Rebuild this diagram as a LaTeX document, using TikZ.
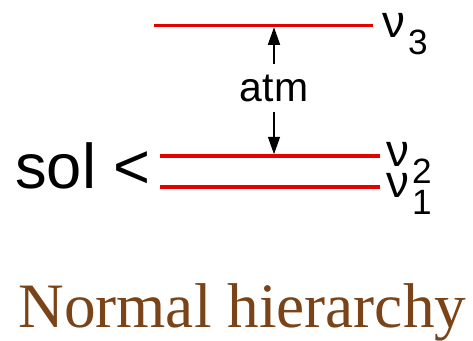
\documentclass[tikz,border=0pt]{standalone}
\usepackage{fontspec}
\setmainfont{Liberation Serif}
\setsansfont{Liberation Sans}
\usepackage{tikz}
\usetikzlibrary{arrows.meta}
\definecolor{levelred}{RGB}{228,0,0}
\definecolor{hierbrown}{RGB}{122,68,24}
\newcommand{\nuidx}[1]{ν\hspace{0.06cm}\raisebox{-0.34cm}{\fontsize{20}{24}\selectfont #1}}
\tikzset{
  level/.style={line width=0.07cm, draw=levelred},
  gap/.style={line width=0.85pt, -{Triangle[length=3.5mm,width=2.4mm]}, shorten >=0.035cm},
  nulab/.style={font=\sffamily\fontsize{26}{30}\selectfont, anchor=base west, inner sep=0pt},
  atmlab/.style={font=\sffamily\fontsize{23.3}{28}\selectfont, inner xsep=0pt, inner ysep=0.2cm},
  sollab/.style={font=\sffamily\fontsize{36}{40}\selectfont, anchor=base west, inner sep=0pt},
  hier/.style={font=\fontsize{36}{42}\selectfont, text=hierbrown, anchor=base west, inner sep=0pt},
}
\begin{document}
\begin{tikzpicture}
  \useasboundingbox (0,0) rectangle (9.46,6.8);
  % mass levels
  \coordinate (l3a) at (3.08,6.29);
  \coordinate (l3b) at (7.46,6.29);
  \coordinate (l2a) at (3.20,3.68);
  \coordinate (l2b) at (7.60,3.68);
  \coordinate (l1a) at (3.20,3.06);
  \coordinate (l1b) at (7.60,3.06);
  \draw[level] (l3a) -- (l3b);
  \draw[level] (l2a) -- (l2b);
  \draw[level] (l1a) -- (l1b);
  \node[nulab] (nu3) at (7.64,6.06) {\nuidx{3}};
  \node[nulab] (nu2) at (7.72,3.48) {\nuidx{2}};
  \node[nulab] (nu1) at (7.72,2.86) {\nuidx{1}};
  % splittings
  \node[atmlab, anchor=base] (atm) at (5.48,4.78) {atm};
  \draw[gap] (atm.north) -- (atm.north |- l3a);
  \draw[gap] (atm.south) -- (atm.south |- l2a);
  \node[sollab] (sol) at (0.30,3.04) {sol <};
  \node[hier] (title) at (0.36,0.25) {Normal hierarchy};
\end{tikzpicture}
\end{document}
